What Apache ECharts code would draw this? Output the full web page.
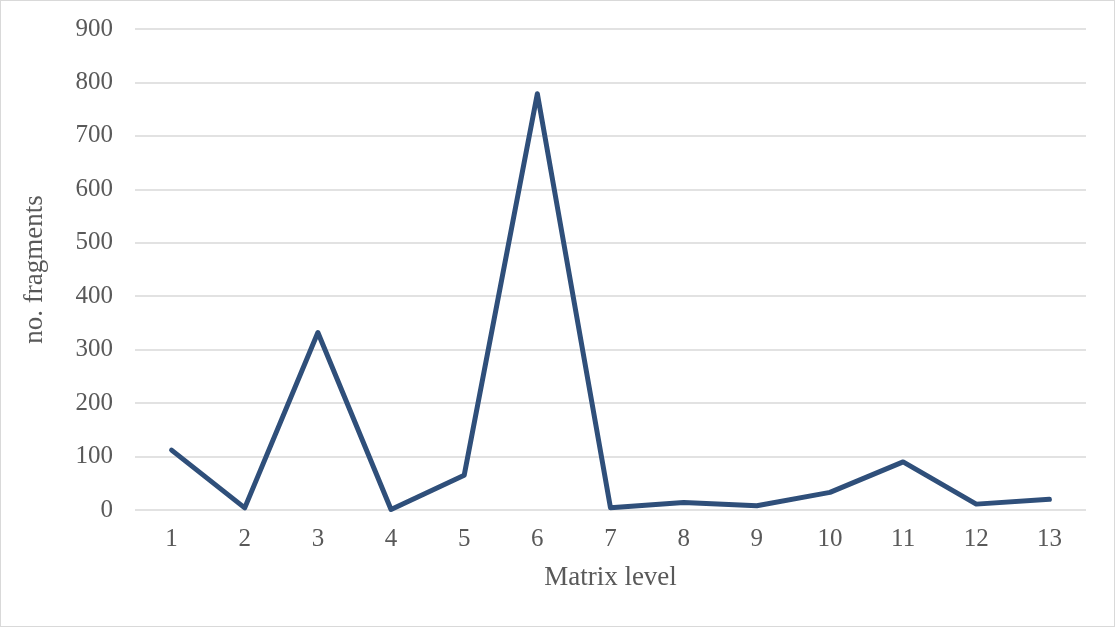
<!DOCTYPE html>
<html>
<head>
<meta charset="utf-8">
<script src="https://cdn.jsdelivr.net/npm/echarts@6/dist/echarts.min.js"></script>
<style>
html,body{margin:0;padding:0;background:#fff;}
#c{width:1115px;height:627px;box-sizing:border-box;border:1px solid #d9d9d9;}
</style>
</head>
<body>
<div id="c"></div>
<script>
const categories = ['1','2','3','4','5','6','7','8','9','10','11','12','13'];
const fragments = [112, 4, 332, 1, 65, 779, 4, 14, 8, 33, 90, 11, 20];
const yTicks = {min: 0, max: 900, interval: 100};

const font = "'Liberation Serif', 'DejaVu Serif', serif";
const chart = echarts.init(document.getElementById('c'));
chart.setOption({
  animation: false,
  grid: {left: 134, right: 28, top: 28, bottom: 116},
  xAxis: {
    type: 'category',
    data: categories,
    boundaryGap: true,
    name: 'Matrix level',
    nameLocation: 'middle',
    nameGap: 54,
    nameTextStyle: {color: '#595959', fontSize: 27, fontFamily: font},
    axisLine: {show: false},
    axisTick: {show: false},
    axisLabel: {color: '#595959', fontSize: 25, fontFamily: font, margin: 17}
  },
  yAxis: {
    type: 'value',
    min: yTicks.min, max: yTicks.max, interval: yTicks.interval,
    name: 'no. fragments',
    nameLocation: 'middle',
    nameGap: 87,
    nameTextStyle: {color: '#595959', fontSize: 27, fontFamily: font},
    axisLine: {show: false},
    axisTick: {show: false},
    axisLabel: {color: '#595959', fontSize: 25, fontFamily: font, margin: 22},
    splitLine: {lineStyle: {color: '#d9d9d9', width: 1.5}}
  },
  series: [{
    type: 'line',
    data: fragments,
    symbol: 'none',
    lineStyle: {color: '#2f4f7a', width: 5, cap: 'round', join: 'round'}
  }]
});
</script>
</body>
</html>
